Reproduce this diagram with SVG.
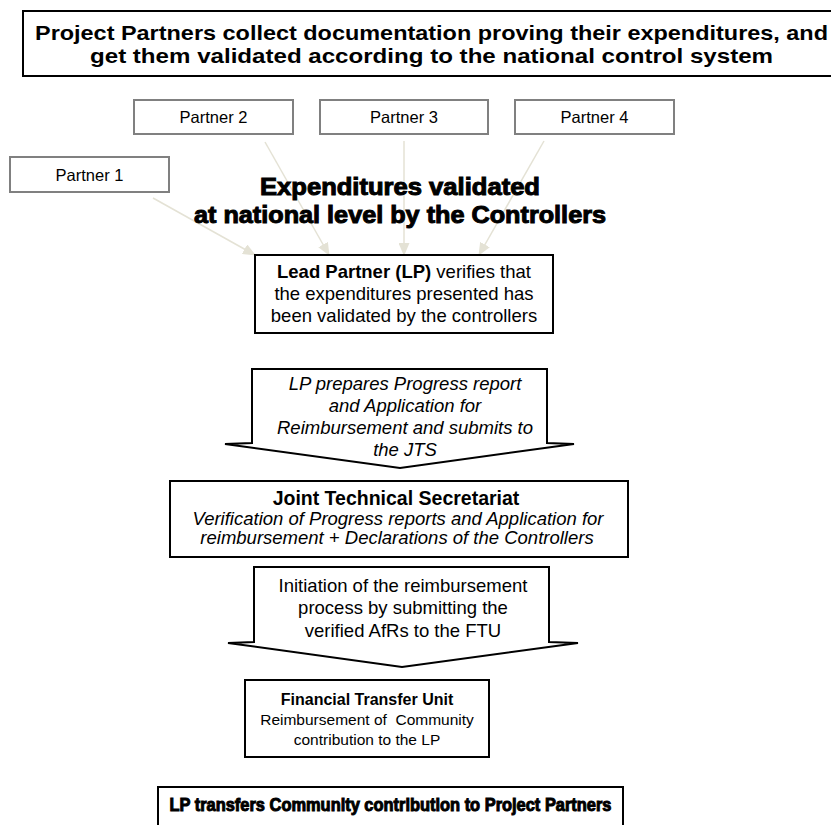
<svg xmlns="http://www.w3.org/2000/svg" width="831" height="825" viewBox="0 0 831 825">
<defs>
<marker id="ah" markerUnits="userSpaceOnUse" markerWidth="13" markerHeight="11" refX="12" refY="5.5" orient="auto">
<path d="M0,0 L13,5.5 L0,11 Z" fill="#e4e2d5"/>
</marker>
<style>
text{font-family:"Liberation Sans",Arial,sans-serif;fill:#000}
.box{fill:#fff;stroke:#000;stroke-width:2}
.pbox{fill:#fff;stroke:#808080;stroke-width:2}
.pt{font-size:16.5px;text-anchor:middle}
.heavy{font-weight:bold;stroke:#000;stroke-width:1px;text-anchor:middle}
.b{font-weight:bold}
.it{font-style:italic}
.c{text-anchor:middle}
.conn{stroke:#e4e2d5;stroke-width:1.5;fill:none}
</style>
</defs>
<rect width="831" height="825" fill="#fff"/>

<g id="top">
<rect class="box" x="23" y="11" width="830" height="65"/>
<text class="b" x="35" y="40" font-size="20.5" textLength="793" lengthAdjust="spacingAndGlyphs">Project Partners collect documentation proving their expenditures, and</text>
<text class="b" x="90" y="63" font-size="20.5" textLength="683" lengthAdjust="spacingAndGlyphs">get them validated according to the national control system</text>
</g>

<g id="partner1">
<rect class="pbox" x="10" y="157" width="159" height="35"/>
<text class="pt" x="89.5" y="180.5">Partner 1</text>
</g>
<g id="partner2">
<rect class="pbox" x="134" y="100" width="159" height="34"/>
<text class="pt" x="213.5" y="123">Partner 2</text>
</g>
<g id="partner3">
<rect class="pbox" x="320" y="100" width="168" height="34"/>
<text class="pt" x="404" y="123">Partner 3</text>
</g>
<g id="partner4">
<rect class="pbox" x="515" y="100" width="159" height="34"/>
<text class="pt" x="594.5" y="123">Partner 4</text>
</g>

<g id="connectors">
<line class="conn" x1="153" y1="198" x2="255" y2="255" marker-end="url(#ah)"/>
<line class="conn" x1="265" y1="142" x2="329" y2="255" marker-end="url(#ah)"/>
<line class="conn" x1="404" y1="141" x2="404" y2="255" marker-end="url(#ah)"/>
<line class="conn" x1="544" y1="141" x2="479" y2="255" marker-end="url(#ah)"/>
</g>

<g id="title">
<text class="heavy" x="400" y="195" font-size="23.5" textLength="280" lengthAdjust="spacingAndGlyphs">Expenditures validated</text>
<text class="heavy" x="400" y="223" font-size="23.5" textLength="412" lengthAdjust="spacingAndGlyphs">at national level by the Controllers</text>
</g>

<g id="lead">
<rect class="box" x="255" y="255" width="298" height="78"/>
<text class="c" x="404" y="278" font-size="18.5"><tspan class="b">Lead Partner (LP)</tspan> verifies that</text>
<text class="c" x="404" y="300" font-size="18.5">the expenditures presented has</text>
<text class="c" x="404" y="322" font-size="18.5">been validated by the controllers</text>
</g>

<g id="arrow1">
<path class="box" d="M252,369 L547,369 L547,443 L574,444 L400,468 L225,444 L252,443 Z"/>
<text class="c it" x="405" y="390" font-size="18.5">LP prepares Progress report</text>
<text class="c it" x="405" y="412" font-size="18.5">and Application for</text>
<text class="c it" x="405" y="434" font-size="18.5">Reimbursement and submits to</text>
<text class="c it" x="405" y="456" font-size="18.5">the JTS</text>
</g>

<g id="jts">
<rect class="box" x="170" y="481" width="458" height="76"/>
<text class="c b" x="396" y="505" font-size="19.5">Joint Technical Secretariat</text>
<text class="c it" x="398" y="525" font-size="18.5">Verification of Progress reports and Application for</text>
<text class="c it" x="397" y="544" font-size="18.5">reimbursement + Declarations of the Controllers</text>
</g>

<g id="arrow2">
<path class="box" d="M254,567 L549,567 L549,642 L578,643 L402,667 L228,643 L254,642 Z"/>
<text class="c" x="403" y="592" font-size="18.5">Initiation of the reimbursement</text>
<text class="c" x="403" y="614" font-size="18.5">process by submitting the</text>
<text class="c" x="403" y="637" font-size="18.5">verified AfRs to the FTU</text>
</g>

<g id="ftu">
<rect class="box" x="245" y="680" width="244" height="77"/>
<text class="c b" x="367" y="705" font-size="16">Financial Transfer Unit</text>
<text class="c" x="367" y="725" font-size="15.5" xml:space="preserve">Reimbursement of  Community</text>
<text class="c" x="367" y="745" font-size="15.5">contribution to the LP</text>
</g>

<g id="bottom">
<rect class="box" x="158" y="787" width="465" height="60"/>
<text class="heavy" x="390.5" y="811" font-size="18" textLength="442" lengthAdjust="spacingAndGlyphs">LP transfers Community contribution to Project Partners</text>
</g>
</svg>
